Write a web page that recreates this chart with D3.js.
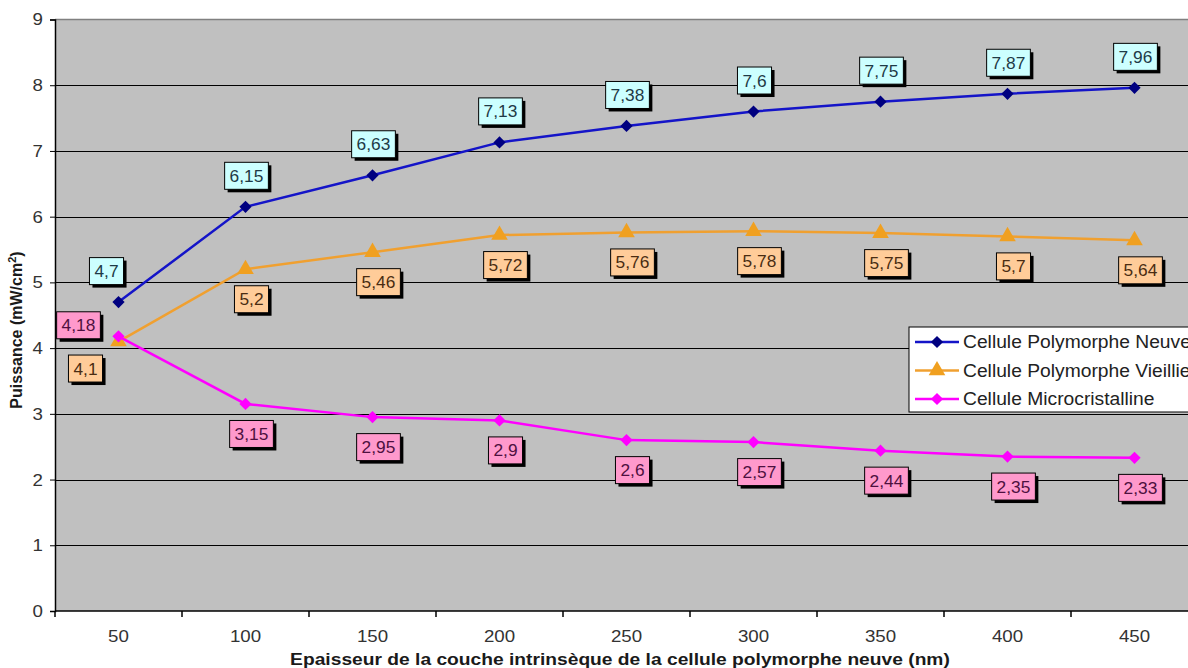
<!DOCTYPE html>
<html><head><meta charset="utf-8">
<script src="https://cdn.jsdelivr.net/npm/d3@7"></script>
<style>
html,body{margin:0;padding:0;background:#fff;}
svg{display:block;font-family:"Liberation Sans",Arial,sans-serif;}
</style></head>
<body>
<svg id="chart" width="1188" height="668"></svg>
<script>
const categories = ["50","100","150","200","250","300","350","400","450"];
const neuve = [4.7, 6.15, 6.63, 7.13, 7.38, 7.6, 7.75, 7.87, 7.96];
const vieillie = [4.1, 5.2, 5.46, 5.72, 5.76, 5.78, 5.75, 5.7, 5.64];
const micro = [4.18, 3.15, 2.95, 2.9, 2.6, 2.57, 2.44, 2.35, 2.33];
const yTicks = [0,1,2,3,4,5,6,7,8,9];
const seriesNames = ["Cellule Polymorphe Neuve","Cellule Polymorphe Vieillie","Cellule Microcristalline"];

const svg = d3.select("#chart");
const L = 55, R = 1198, T = 19.5, B = 611;

const x = d3.scaleBand().domain(categories).range([L, R]);
const y = d3.scaleLinear().domain([0, 9]).range([B, T]);

function stretch(sel, k) {
  sel.each(function() {
    const n = this;
    const w = n.getComputedTextLength();
    if (w > 0) d3.select(n).attr("textLength", w * k).attr("lengthAdjust", "spacingAndGlyphs");
  });
  return sel;
}

// plot background
svg.append("rect").attr("x", L).attr("y", T).attr("width", R - L).attr("height", B - T).attr("fill", "#c0c0c0");
svg.append("line").attr("x1", L).attr("x2", R).attr("y1", T).attr("y2", T).attr("stroke", "#808080").attr("stroke-width", 1.5);

// gridlines
svg.append("g").selectAll("line").data(yTicks.filter(d => d > 0 && d < 9)).join("line")
  .attr("x1", L).attr("x2", R).attr("y1", d => Math.round(y(d)) + 0.5).attr("y2", d => Math.round(y(d)) + 0.5)
  .attr("stroke", "#000").attr("stroke-width", 1);

// y axis
const yAxis = svg.append("g").attr("transform", `translate(${L},0)`)
  .call(d3.axisLeft(y).tickValues(yTicks).tickSize(5).tickPadding(7));
yAxis.select(".domain").attr("stroke", "#000").attr("stroke-width", 1.5);
yAxis.selectAll("text").attr("font-size", 17).attr("fill", "#333").attr("font-family", "Liberation Sans, Arial, sans-serif");
stretch(yAxis.selectAll("text"), 1.1);

// x axis with ticks between categories
const xAxisG = svg.append("g").attr("transform", `translate(0,${B})`);
xAxisG.append("line").attr("x1", L).attr("x2", R).attr("y1", 0).attr("y2", 0).attr("stroke", "#000").attr("stroke-width", 1.5);
xAxisG.selectAll("line.tk").data(categories).join("line").attr("class", "tk")
  .attr("x1", d => x(d)).attr("x2", d => x(d)).attr("y1", 0).attr("y2", 6).attr("stroke", "#000").attr("stroke-width", 1.5);
const xl = xAxisG.selectAll("text").data(categories).join("text")
  .attr("x", d => x(d) + x.bandwidth() / 2).attr("y", 31)
  .attr("text-anchor", "middle").attr("font-size", 17).attr("fill", "#333").text(d => d);
stretch(xl, 1.1);

// axis titles
const xt = svg.append("text").attr("x", 620).attr("y", 665).attr("text-anchor", "middle")
  .attr("font-size", 17).attr("font-weight", "bold").attr("fill", "#1a1a1a")
  .text("Epaisseur de la couche intrinsèque de la cellule polymorphe neuve (nm)");
stretch(xt, 1.13);
const yt = svg.append("text").attr("transform", "translate(22,330) rotate(-90)").attr("text-anchor", "middle")
  .attr("font-size", 16).attr("font-weight", "bold").attr("fill", "#1a1a1a");
yt.append("tspan").text("Puissance (mW/cm");
yt.append("tspan").attr("font-size", 11).attr("dy", -6).text("2");
yt.append("tspan").attr("dy", 6).text(")");

const cx = (d, i) => x(categories[i]) + x.bandwidth() / 2;

const series = [
  {name: seriesNames[0], values: neuve, line: "#1414c8", marker: "#000080", shape: "diamond", fill: "#ccffff", textColor: "#1e3a46"},
  {name: seriesNames[1], values: vieillie, line: "#f0a030", marker: "#f0a020", shape: "triangle", fill: "#ffcc99", textColor: "#4a2c12"},
  {name: seriesNames[2], values: micro, line: "#ff00ff", marker: "#ff00ff", shape: "diamond", fill: "#ff99cc", textColor: "#4e1040"}
];

const lineGen = d3.line().x((d, i) => cx(d, i)).y(d => y(d));

function markerPath(shape, size) {
  return d3.symbol().type(shape === "diamond" ? d3.symbolSquare : d3.symbolTriangle).size(size)();
}

series.forEach(s => {
  svg.append("path").datum(s.values).attr("d", lineGen).attr("fill", "none")
    .attr("stroke", s.line).attr("stroke-width", 2.5);
  svg.append("g").selectAll("path").data(s.values).join("path")
    .attr("d", markerPath(s.shape, s.shape === "diamond" ? 75 : 120))
    .attr("transform", (d, i) => `translate(${cx(d, i)},${y(d)})` + (s.shape === "diamond" ? " rotate(45)" : ""))
    .attr("fill", s.marker);
});

// data labels
function labelOffset(si, i) {
  if (i === 0) {
    if (si === 0) return [-12, -31];
    if (si === 1) return [-33, 27];
    return [-40, -11];
  }
  if (si === 0) return [1, -31];
  return [6, 30];
}
const fmt = v => String(v).replace(".", ",");
series.forEach((s, si) => {
  const g = svg.append("g");
  s.values.forEach((v, i) => {
    const [dx, dy] = labelOffset(si, i);
    const px = cx(v, i) + dx, py = y(v) + dy;
    const t = fmt(v);
    const tmp = g.append("text").attr("font-size", 16.5).text(t);
    const tw = tmp.node().getComputedTextLength() * 1.05;
    tmp.remove();
    const w = tw + 10;
    const h = 27;
    g.append("rect").attr("x", px - w / 2 + 3).attr("y", py - h / 2 + 3).attr("width", w).attr("height", h).attr("fill", "#000");
    g.append("rect").attr("x", px - w / 2).attr("y", py - h / 2).attr("width", w).attr("height", h)
      .attr("fill", s.fill).attr("stroke", "#000").attr("stroke-width", 1);
    g.append("text").attr("x", px).attr("y", py + 6).attr("text-anchor", "middle")
      .attr("font-size", 16.5).attr("fill", s.textColor)
      .attr("textLength", tw).attr("lengthAdjust", "spacingAndGlyphs").text(t);
  });
});

// legend
const lg = svg.append("g").attr("transform", "translate(909,327)");
lg.append("rect").attr("x", 0).attr("y", 0).attr("width", 300).attr("height", 85).attr("fill", "#fff").attr("stroke", "#000").attr("stroke-width", 1);
series.forEach((s, i) => {
  const yy = 15 + i * 28.5;
  lg.append("line").attr("x1", 6).attr("x2", 50).attr("y1", yy).attr("y2", yy).attr("stroke", s.line).attr("stroke-width", 2.5);
  lg.append("path").attr("d", markerPath(s.shape, s.shape === "diamond" ? 75 : 120))
    .attr("transform", `translate(28,${yy})` + (s.shape === "diamond" ? " rotate(45)" : "")).attr("fill", s.marker);
  const tx = lg.append("text").attr("x", 54).attr("y", yy + 6).attr("font-size", 17.5).attr("fill", "#222").text(s.name);
  stretch(tx, 1.1);
});
</script>
</body></html>
